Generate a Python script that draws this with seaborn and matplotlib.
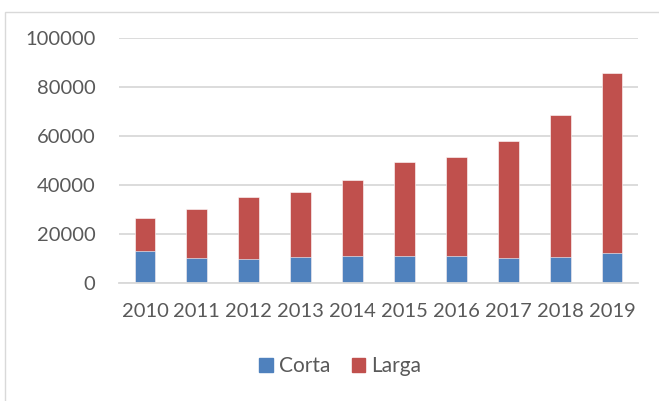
import numpy as np
import pandas as pd
import matplotlib
matplotlib.use("Agg")
import matplotlib.pyplot as plt
import seaborn as sns
from matplotlib.patches import Patch, Rectangle

# datos
years = ['2010', '2011', '2012', '2013', '2014', '2015', '2016', '2017', '2018', '2019']
corta = [12700, 10200, 9550, 10350, 10800, 11050, 11050, 9850, 10250, 11900]
larga = [13800, 19800, 25450, 26650, 31100, 38100, 40450, 48150, 58200, 73750]
yticks = [0, 20000, 40000, 60000, 80000, 100000]

df = pd.DataFrame({'year': years, 'Corta': corta, 'Larga': larga})
df['total'] = df['Corta'] + df['Larga']

sns.set_style('white')
plt.rcParams['font.family'] = ['Lato', 'DejaVu Sans']

blue = '#4F81BD'
red = '#C0504D'
grey = '#595959'

fig = plt.figure(figsize=(6.59, 4.01), dpi=100)
ax = fig.add_axes([119/659, 1 - 282.5/401, (638 - 119)/659, (282.5 - 38.3)/401])

# total (Larga arriba) y luego Corta encima
sns.barplot(data=df, x='year', y='total', color=red, width=0.4, ax=ax,
            saturation=1, edgecolor='white', linewidth=0.4)
sns.barplot(data=df, x='year', y='Corta', color=blue, width=0.4, ax=ax,
            saturation=1, edgecolor='white', linewidth=0.4)

ax.set_ylim(0, 100000)
ax.set_xlim(-0.5, len(years) - 0.5)
ax.set_yticks(yticks)
ax.set_yticklabels([str(v) for v in yticks])
ax.yaxis.grid(True, color='#D9D9D9', linewidth=1.3)
ax.set_axisbelow(True)
for s in ['top', 'right', 'left']:
    ax.spines[s].set_visible(False)
ax.spines['bottom'].set_color('#D9D9D9')
ax.spines['bottom'].set_linewidth(1.3)
ax.tick_params(axis='both', length=0, labelsize=14.5, colors=grey)
ax.tick_params(axis='y', pad=17)
ax.tick_params(axis='x', pad=15)
ax.set_xlabel('')
ax.set_ylabel('')

handles = [Patch(color=blue, label='Corta'), Patch(color=red, label='Larga')]
fig.legend(handles=handles, loc='center', bbox_to_anchor=(340.5/659, 1 - 366.5/401),
           ncol=2, frameon=False, fontsize=15, labelcolor=grey,
           handlelength=0.66, handleheight=0.66, handletextpad=0.3, columnspacing=1.0)

# marco del gráfico
fig.patches.append(Rectangle((5/659, -0.05), 1.1, 1 - 12/401 + 0.05,
                             transform=fig.transFigure, fill=False,
                             edgecolor='#D9D9D9', linewidth=1))

fig.savefig('out.png', dpi=100)
